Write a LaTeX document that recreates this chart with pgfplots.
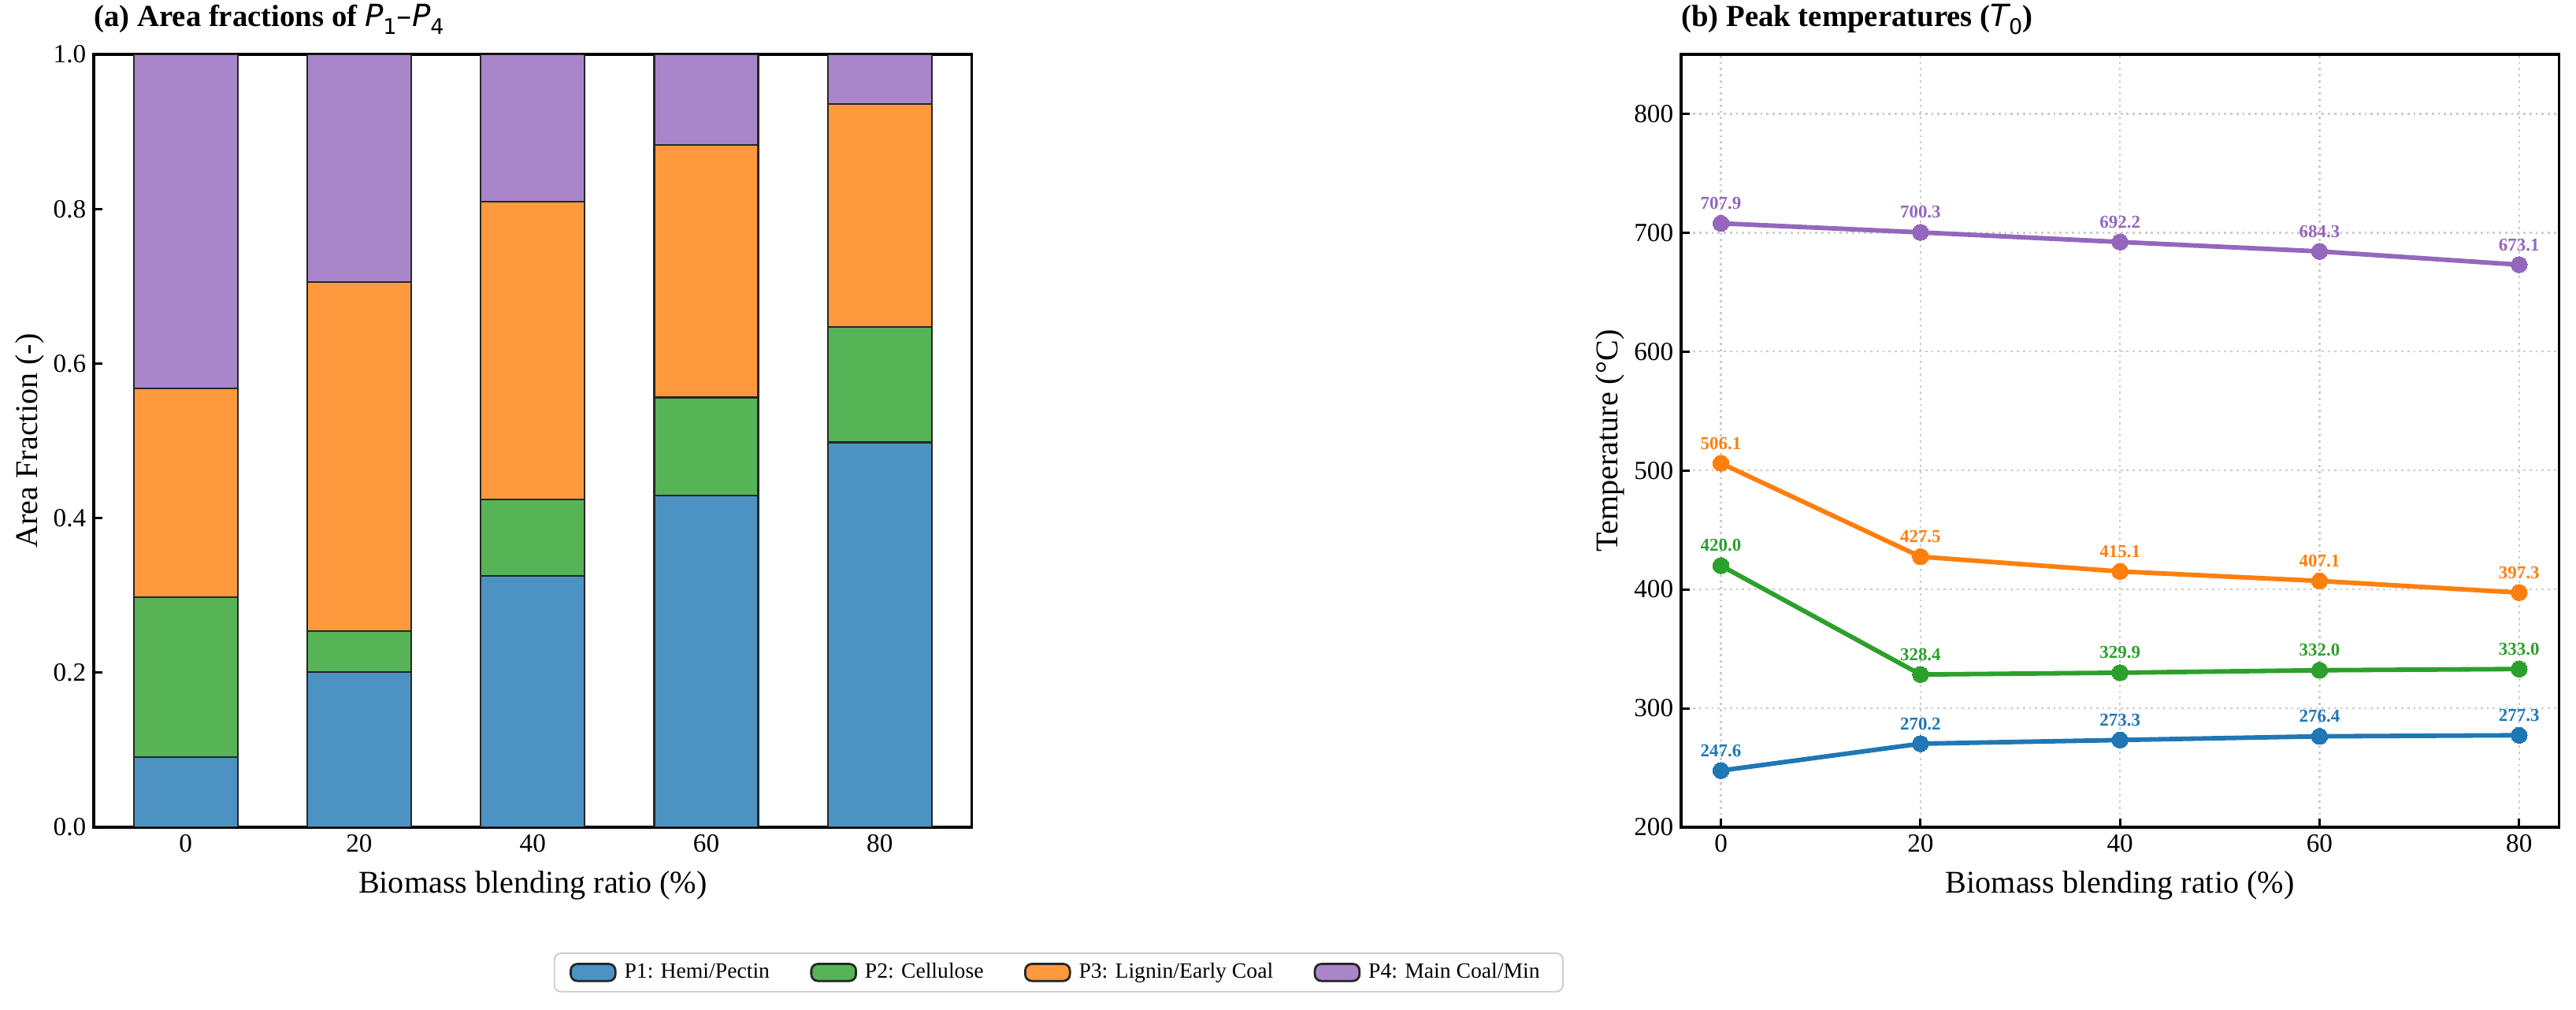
\documentclass[border=0pt]{standalone}
\usepackage{fontspec}
\setmainfont{Liberation Serif}
\newfontfamily\dv{DejaVu Sans}
\usepackage{pgfplots}
\pgfplotsset{compat=1.18}

\definecolor{bA}{HTML}{4C92C3}
\definecolor{bB}{HTML}{56B356}
\definecolor{bC}{HTML}{FF993E}
\definecolor{bD}{HTML}{A985CA}
\definecolor{tblue}{HTML}{1F77B4}
\definecolor{torange}{HTML}{FF7F0E}
\definecolor{tgreen}{HTML}{2CA02C}
\definecolor{tpurple}{HTML}{9467BD}

\newcommand{\mP}[2]{{\dv\mdseries\itshape #1}\raisebox{-0.25em}{\dv\mdseries\fontsize{9.8}{10}\selectfont #2}}

\pgfplotsset{
  common/.style={
    scale only axis, width=402.8pt, height=354.5pt,
    axis line style={line width=1.2pt},
    tick align=inside, major tick length=4pt,
    tick style={black, line width=1.1pt},
    xtick pos=bottom, ytick pos=left,
    tick label style={font=\fontsize{12}{14}\selectfont},
    label style={font=\fontsize{14.5}{16}\selectfont},
    ylabel shift=-2.5pt, xlabel shift=1.5pt,
    /pgf/number format/assume math mode=true,
    title style={at={(0,1)}, anchor=base west, yshift=6.9pt, inner sep=0pt, font=\fontsize{14}{16}\selectfont\bfseries},
  },
  tline/.style={color=#1, line width=2.1pt, mark=*, mark size=3.7pt, mark options={fill=#1, draw=#1, line width=0pt},
    nodes near coords={\pgfmathprintnumber[fixed,fixed zerofill,precision=1]{\pgfplotspointmeta}},
    every node near coord/.append style={anchor=base, yshift=6.5pt, inner sep=0pt, text=#1, font=\fontsize{8.3}{9}\selectfont\bfseries}},
  barleg/.style={legend image code/.code={\draw[##1, line width=1pt] (0pt,-3.9pt) rectangle (20.5pt,3.9pt);}},
}

\begin{document}
\begin{tikzpicture}
\path[use as bounding box] (0,0) rectangle (1181.8pt,463.3pt);

\begin{axis}[common,
  at={(43.0pt,83.85pt)}, anchor=south west,
  ybar stacked, bar width=0.6,
  xmin=-0.53, xmax=4.53, ymin=0, ymax=1,
  xtick={0,1,2,3,4}, xticklabels={0,20,40,60,80},
  ytick={0,0.2,0.4,0.6,0.8,1.0},
  yticklabel style={/pgf/number format/.cd, fixed, fixed zerofill, precision=1},
  xlabel={Biomass blending ratio (\%)},
  ylabel={Area Fraction (-)},
  title={(a) Area fractions of \mP{P}{1}{\dv\mdseries –}\mP{P}{4}},
  legend columns=4,
  legend style={at={(1.099,-0.188)}, anchor=center, draw=black!20, line width=0.7pt, rounded corners=3pt,
    font=\fontsize{10}{12}\selectfont, inner xsep=7pt, inner ysep=1pt,
    nodes={inner sep=3.6pt},
    /tikz/every even column/.append style={column sep=15pt}},
]
\addplot[barleg, fill=bA, draw=black!85, line width=0.8pt] coordinates {(0,0.091) (1,0.201) (2,0.325) (3,0.429) (4,0.498)};
\addlegendentry{P1: Hemi/Pectin}
\addplot[barleg, fill=bB, draw=black!85, line width=0.8pt] coordinates {(0,0.207) (1,0.053) (2,0.099) (3,0.127) (4,0.149)};
\addlegendentry{P2: Cellulose}
\addplot[barleg, fill=bC, draw=black!85, line width=0.8pt] coordinates {(0,0.270) (1,0.451) (2,0.385) (3,0.327) (4,0.289)};
\addlegendentry{P3: Lignin/Early Coal}
\addplot[barleg, fill=bD, draw=black!85, line width=0.8pt] coordinates {(0,0.432) (1,0.295) (2,0.191) (3,0.117) (4,0.064)};
\addlegendentry{P4: Main Coal/Min}
\end{axis}

\begin{axis}[common,
  at={(771.2pt,83.85pt)}, anchor=south west,
  xmin=-4, xmax=84, ymin=200, ymax=850,
  xtick={0,20,40,60,80}, ytick={200,300,400,500,600,700,800},
  grid=major, grid style={gray!40, line width=0.8pt, dash pattern=on 1pt off 1.8pt},
  xlabel={Biomass blending ratio (\%)},
  ylabel={Temperature (°C)},
  title={(b) Peak temperatures (\mP{T}{0})},
]
\addplot[tline=tblue] coordinates {(0,247.6) (20,270.2) (40,273.3) (60,276.4) (80,277.3)};
\addplot[tline=tgreen] coordinates {(0,420.0) (20,328.4) (40,329.9) (60,332.0) (80,333.0)};
\addplot[tline=torange] coordinates {(0,506.1) (20,427.5) (40,415.1) (60,407.1) (80,397.3)};
\addplot[tline=tpurple] coordinates {(0,707.9) (20,700.3) (40,692.2) (60,684.3) (80,673.1)};
\end{axis}
\end{tikzpicture}
\end{document}
